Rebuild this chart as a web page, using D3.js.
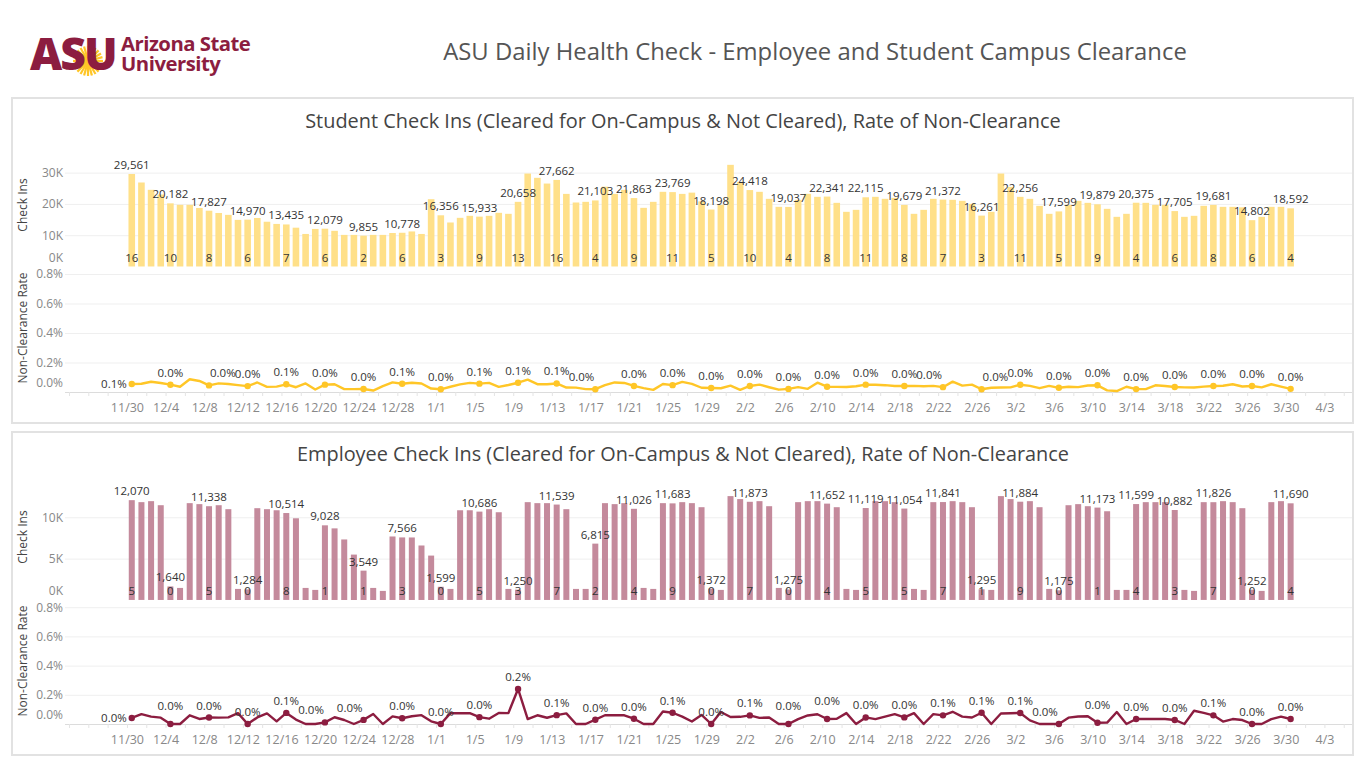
<!DOCTYPE html>
<html><head><meta charset="utf-8"><title>ASU Daily Health Check</title>
<script src="https://cdn.jsdelivr.net/npm/d3@7/dist/d3.min.js"></script>
<style>html,body{margin:0;padding:0;background:#fff}svg{display:block}</style>
</head><body><svg id="chart" width="1366" height="768"></svg>
<script>
// ---------------- DATA ----------------
const mainTitle = "ASU Daily Health Check - Employee and Student Campus Clearance";
const studentTitle = "Student Check Ins (Cleared for On-Campus & Not Cleared), Rate of Non-Clearance";
const employeeTitle = "Employee Check Ins (Cleared for On-Campus & Not Cleared), Rate of Non-Clearance";
const firstDay = "2020-11-30";
const dateTickLabels = ["11/30","12/4","12/8","12/12","12/16","12/20","12/24","12/28","1/1","1/5","1/9","1/13","1/17","1/21","1/25","1/29","2/2","2/6","2/10","2/14","2/18","2/22","2/26","3/2","3/6","3/10","3/14","3/18","3/22","3/26","3/30","4/3"];
const studentBarTicks = [10000, 20000, 30000, 0];
const studentBarTickLabels = ["10K","20K","30K","0K"];
const employeeBarTicks = [5000, 10000, 0];
const employeeBarTickLabels = ["5K","10K","0K"];
const rateTicks = [0.002, 0.004, 0.006, 0.008, 0];
const rateTickLabels = ["0.2%","0.4%","0.6%","0.8%","0.0%"];

const studentTotal = [29561,26840,24500,23000,20182,19700,19700,18700,17827,17100,
16500,14900,14970,15500,14300,13600,13435,12400,10400,12000,
12079,11400,10100,10100,9855,10100,10100,10700,10778,11200,
10400,21500,16356,14060,15550,16190,15933,16190,17150,16830,
20658,29700,28330,26500,27662,23200,20450,20660,21103,25500,
23200,24500,21863,18740,20660,23860,23769,23200,23600,20800,
18198,19700,32480,27050,24418,23860,21620,19060,19037,21300,
23220,22260,22341,20340,17470,18100,22115,22260,21620,21940,
19679,16830,18100,21620,21372,21300,20980,20020,16261,17470,
29700,25450,22256,21620,19380,16830,17599,19700,20980,20340,
19879,18420,15870,16830,20375,20340,19700,19700,17705,15870,
16190,19380,19681,19060,19060,18900,14802,15870,19060,19060,
18592];
const studentNotCleared = [16,15,17,14,10,7,17,14,8,10,
9,7,6,10,5,5,7,4,6,2,
6,6,2,2,2,1,4,7,6,7,
6,5,3,5,8,10,9,10,6,8,
13,25,15,14,16,7,6,4,4,12,
15,15,9,5,3,13,11,16,13,6,
5,5,14,4,10,12,7,3,4,7,
5,14,8,7,6,7,11,11,10,9,
8,7,7,9,7,15,9,10,3,5,
9,8,11,9,5,7,5,7,7,9,
9,2,1,6,4,4,9,8,6,5,
5,7,8,8,10,7,6,5,10,7,
4];
const employeeTotal = [12070,11830,11950,11460,1640,1460,11710,11590,11338,11460,
10980,1340,1284,11100,10980,10850,10514,9880,1460,1220,
9028,8660,7320,5490,3549,1460,1100,7680,7566,7560,
6590,5370,1599,1340,10850,10850,10686,10980,10610,1340,
1250,11830,11710,11710,11539,10980,1340,1340,6815,11710,
11590,11710,11026,1460,1340,11710,11683,11830,11710,11220,
1372,1220,12560,12200,11873,11950,11340,1460,1275,11830,
11950,11950,11652,11220,1340,1220,11119,11950,11950,11830,
11054,1340,1220,11830,11841,11950,11830,11220,1295,1220,
12560,12200,11884,11950,11220,1340,1175,11460,11590,11340,
11173,10730,1220,1220,11599,11830,11830,11830,10882,1220,
1100,11830,11826,11950,11830,11100,1252,1100,11830,11950,
11690];
const employeeNotCleared = [5,8,6,5,0,0,7,4,5,5,
5,1,0,5,8,2,8,3,0,0,
1,4,2,0,1,1,0,4,3,4,
4,1,0,1,8,8,5,4,8,1,
3,4,7,5,7,8,0,0,2,7,
7,7,4,0,0,10,9,6,2,7,
0,1,6,6,7,5,5,0,0,4,
7,8,4,4,1,0,5,4,6,8,
5,1,0,8,7,10,6,5,1,0,
9,9,9,3,0,0,0,5,6,6,
1,1,1,0,4,4,4,4,3,0,
1,9,7,2,4,3,0,0,4,6,
4];

// ---------------- SETUP ----------------
const FONT = "'Open Sans','Noto Sans',sans-serif";
const svg = d3.select("#chart").style("font-family", FONT);
const GOLD = "#FFC627", MAROON = "#8C1D40";
const PANE_L = 65, PANE_R = 1352;

const parseDay = d3.utcParse("%Y-%m-%d");
const start = parseDay(firstDay);
const days = studentTotal.map((_, i) => d3.utcDay.offset(start, i));
const tickDates = dateTickLabels.map(s => {
  const [m, d] = s.split("/").map(Number);
  return new Date(Date.UTC(m >= 11 ? 2020 : 2021, m - 1, d));
});

const x = d3.scaleUtc()
  .domain([d3.utcDay.offset(start, -6), d3.utcDay.offset(start, 127)])
  .range([69, 1353.4]);
const cx = d => x(d3.utcHour.offset(d, 12));

function fitText(sel, targetW) {
  const w = sel.node().getComputedTextLength();
  const fs = parseFloat(sel.style("font-size"));
  sel.style("font-size", (fs * targetW / w) + "px");
}

// ---------------- HEADER ----------------
const logo = svg.append("g");
const sun = logo.append("g").attr("transform", "translate(88,61)");
d3.range(0, 360, 15).forEach(a => {
  const r = a * Math.PI / 180;
  sun.append("line").attr("x1", 0).attr("y1", 0)
    .attr("x2", 15 * Math.cos(r)).attr("y2", 15 * Math.sin(r))
    .attr("stroke", GOLD).attr("stroke-width", 2.2);
});
const asu = logo.append("text").attr("x", 30).attr("y", 70)
  .style("font-size", "48px").style("font-weight", 800).style("letter-spacing", "-2px")
  .attr("fill", MAROON).text("ASU");
fitText(asu, 86);
const l1 = logo.append("text").attr("x", 121).attr("y", 51)
  .style("font-size", "19px").style("font-weight", 700).style("letter-spacing", "-0.5px")
  .attr("fill", MAROON).text("Arizona State");
fitText(l1, 129);
const l2 = logo.append("text").attr("x", 121).attr("y", 70.5)
  .style("font-size", l1.style("font-size")).style("font-weight", 700).style("letter-spacing", "-0.5px")
  .attr("fill", MAROON).text("University");

const mt = svg.append("text").attr("x", 815).attr("y", 60).attr("text-anchor", "middle")
  .style("font-size", "22px").attr("fill", "#555").text(mainTitle);
fitText(mt, 744);

// ---------------- PANELS ----------------
const panels = [
  { title: studentTitle, titleW: 756, top: 98, bottom: 423, titleY: 127.5,
    total: studentTotal, nc: studentNotCleared,
    barMax: 40000, barBase: 266.5, barTop: 141.3, barTicks: studentBarTicks, barTickLabels: studentBarTickLabels,
    lineBase: 392, lineTop: 274, barFill: "#FFE089", lineColor: GOLD, barW: 6.6,
    titleCheck: 205, titleRate: 328 },
  { title: employeeTitle, titleW: 772, top: 432, bottom: 755, titleY: 460.5,
    total: employeeTotal, nc: employeeNotCleared,
    barMax: 14000, barBase: 600, barTop: 484.2, barTicks: employeeBarTicks, barTickLabels: employeeBarTickLabels,
    lineBase: 724, lineTop: 607.2, barFill: "#C48A9C", lineColor: MAROON, barW: 6.0,
    titleCheck: 537, titleRate: 661 }
];

function lineYAt(xp, pts) {
  for (let k = 0; k < pts.length - 1; k++) {
    if (xp >= pts[k][0] && xp <= pts[k + 1][0]) {
      const t = (xp - pts[k][0]) / (pts[k + 1][0] - pts[k][0]);
      return pts[k][1] + t * (pts[k + 1][1] - pts[k][1]);
    }
  }
  return null;
}
function minLineY(x0, x1, pts) {
  let m = Infinity;
  for (let xx = x0; xx <= x1; xx += 1) { const v = lineYAt(xx, pts); if (v != null && v < m) m = v; }
  return m;
}

panels.forEach(P => {
  const g = svg.append("g");
  g.append("rect").attr("x", 12).attr("y", P.top).attr("width", 1341).attr("height", P.bottom - P.top)
    .attr("fill", "none").attr("stroke", "#e2e2e2").attr("stroke-width", 2);
  const t = g.append("text").attr("x", 683).attr("y", P.titleY).attr("text-anchor", "middle")
    .style("font-size", "18.5px").attr("fill", "#444").text(P.title);
  fitText(t, P.titleW);

  const rows = days.map((d, i) => ({ date: d, total: P.total[i], nc: P.nc[i],
    cleared: P.total[i] - P.nc[i], notCleared: P.nc[i], rate: P.nc[i] / P.total[i], i }));

  const yBar = d3.scaleLinear().domain([0, P.barMax]).range([P.barBase, P.barTop]);
  const yRate = d3.scaleLinear().domain([0, 0.008]).range([P.lineBase, P.lineTop]);

  // bar axis + grid
  const ga = g.append("g").attr("transform", `translate(${PANE_L},0)`)
    .call(d3.axisLeft(yBar).tickValues(P.barTicks).tickFormat((d, i) => P.barTickLabels[i])
      .tickSize(-(PANE_R - PANE_L)).tickPadding(2));
  ga.select(".domain").remove();
  ga.selectAll(".tick line").attr("stroke", "#efefef");
  ga.selectAll(".tick").filter(d => d === 0).select("line").remove();
  ga.selectAll(".tick text").attr("fill", "#888").style("font-size", "12px").style("font-family", FONT)
    .attr("y", d => d === 0 ? -9 : 0);

  // rate axis + grid
  const gr = g.append("g").attr("transform", `translate(${PANE_L},0)`)
    .call(d3.axisLeft(yRate).tickValues(rateTicks).tickFormat((d, i) => rateTickLabels[i])
      .tickSize(-(PANE_R - PANE_L)).tickPadding(2));
  gr.select(".domain").remove();
  gr.selectAll(".tick line").attr("stroke", "#efefef");
  gr.selectAll(".tick").filter(d => d === 0).select("line").attr("stroke", "#dcdcdc");
  gr.selectAll(".tick text").attr("fill", "#888").style("font-size", "12px").style("font-family", FONT)
    .attr("y", d => d === 0 ? -9 : 0);

  // axis titles
  g.append("text").attr("transform", `translate(27,${P.titleCheck}) rotate(-90)`).attr("text-anchor", "middle")
    .style("font-size", "12px").attr("fill", "#444").text("Check Ins");
  g.append("text").attr("transform", `translate(27,${P.titleRate}) rotate(-90)`).attr("text-anchor", "middle")
    .style("font-size", "12px").attr("fill", "#444").text("Non-Clearance Rate");

  // x axis (minor ticks + labels)
  const minor = d3.utcDay.range(d3.utcDay.offset(start, -6), d3.utcDay.offset(start, 127), 2);
  const gm = g.append("g").attr("transform", `translate(0,${P.lineBase})`)
    .call(d3.axisBottom(x).tickValues(minor).tickFormat("").tickSize(4).tickSizeOuter(0));
  gm.select(".domain").remove();
  gm.selectAll(".tick line").attr("stroke", "#e4e4e4");
  const gx = g.append("g").attr("transform", `translate(0,${P.lineBase})`)
    .call(d3.axisBottom(x).tickValues(tickDates).tickFormat((d, i) => dateTickLabels[i]).tickSize(0).tickPadding(11));
  gx.select(".domain").remove();
  gx.selectAll(".tick text").attr("fill", "#888").style("font-size", "12.5px").style("font-family", FONT);

  // stacked bars
  const stacked = d3.stack().keys(["notCleared", "cleared"])(rows);
  g.append("g").selectAll("g").data(stacked).join("g").attr("fill", P.barFill)
    .selectAll("rect").data(s => s).join("rect")
    .attr("x", d => cx(d.data.date) - P.barW / 2).attr("width", P.barW)
    .attr("y", d => yBar(d[1])).attr("height", d => Math.max(0, yBar(d[0]) - yBar(d[1])));

  const labeled = rows.filter(r => r.i % 4 === 0);
  const fmtN = d3.format(",");
  g.append("g").selectAll("text").data(labeled).join("text")
    .attr("x", d => cx(d.date)).attr("y", d => yBar(d.total) - 5).attr("text-anchor", "middle")
    .style("font-size", "11.5px").attr("fill", "#333").text(d => fmtN(d.total));
  g.append("g").selectAll("text").data(labeled).join("text")
    .attr("x", d => cx(d.date)).attr("y", P.barBase - 5).attr("text-anchor", "middle")
    .style("font-size", "11.5px").attr("fill", "#333").text(d => fmtN(d.nc));

  // rate line
  const line = d3.line().x(d => cx(d.date)).y(d => yRate(d.rate));
  g.append("path").datum(rows).attr("d", line).attr("fill", "none")
    .attr("stroke", P.lineColor).attr("stroke-width", 2.4).attr("stroke-linejoin", "round");
  g.append("g").selectAll("circle").data(labeled).join("circle")
    .attr("cx", d => cx(d.date)).attr("cy", d => yRate(d.rate)).attr("r", 3.2).attr("fill", P.lineColor);

  const pts = rows.map(d => [cx(d.date), yRate(d.rate)]);
  const fmtP = d3.format(".1%");
  const lg = g.append("g");
  labeled.forEach((d, k) => {
    const px = cx(d.date), py = yRate(d.rate);
    const tx = lg.append("text").style("font-size", "11.5px").attr("fill", "#333").text(fmtP(d.rate));
    const w = tx.node().getComputedTextLength();
    if (k === 0) {
      tx.attr("x", px - 5).attr("y", py + 4).attr("text-anchor", "end");
      return;
    }
    const base = Math.min(py - 8, P.lineBase - 4);
    const cands = [[px, base], [px - w / 2 - 1, base], [px + w / 2 + 1, base], [px, base - 6]];
    let pick = cands[0];
    for (const c of cands) {
      if (minLineY(c[0] - w / 2, c[0] + w / 2, pts) >= c[1] + 3.5) { pick = c; break; }
    }
    tx.attr("x", pick[0]).attr("y", pick[1]).attr("text-anchor", "middle");
  });
});
</script></body></html>
